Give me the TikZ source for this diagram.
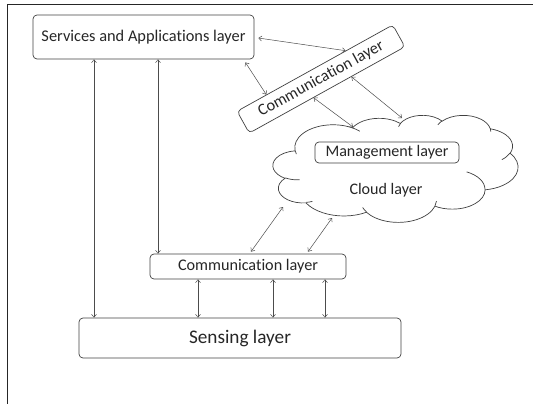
\documentclass[tikz,border=0pt]{standalone}
\usepackage{fontspec}
\setmainfont{Carlito}[Ligatures=NoCommon]
\usetikzlibrary{arrows.meta,calc}
\newlength\fitlen
\newcommand\fitto[2]{\settowidth\fitlen{\fontsize{10pt}{12pt}\selectfont #2}\pgfmathsetmacro\fitsz{10*#1/\fitlen}\fontsize{\fitsz pt}{\fitsz pt}\selectfont #2}
\newcommand\convarc[5]{%
  \pgfmathsetmacro\tmpS{atan2((#2)*sin(#4),(#3)*cos(#4))}%
  \pgfmathsetmacro\tmpE{atan2((#2)*sin((#4)+(#5)),(#3)*cos((#4)+(#5)))}%
  \pgfmathsetmacro\tmpD{\tmpE-\tmpS}%
  \pgfmathsetmacro\tmpD{\tmpD-360*round((\tmpD-(#5))/360)}%
  \expandafter\xdef\csname arcS#1\endcsname{\tmpS}%
  \expandafter\xdef\csname arcD#1\endcsname{\tmpD}%
}
\convarc{a}{67.53}{91.90}{-190.4875}{123.7805}
\convarc{b}{53.33}{72.67}{-144.1024}{89.9452}
\convarc{c}{43.65}{59.45}{-145.8079}{99.7230}
\convarc{d}{48.57}{65.95}{-130.9861}{117.2417}
\convarc{e}{53.33}{72.73}{-78.7089}{109.0269}
\convarc{f}{67.75}{92.20}{-46.2673}{130.2690}
\convarc{g}{57.85}{78.67}{0.6250}{114.0333}
\convarc{h}{67.52}{92.15}{22.4516}{115.1726}
\convarc{i}{77.20}{105.43}{66.2426}{75.7110}
\convarc{j}{43.60}{59.18}{-274.9421}{146.7356}
\convarc{k}{43.45}{59.45}{-246.8285}{152.5189}
\convarc{l}{43.45}{59.45}{86.7420}{26.4295}
\convarc{m}{43.60}{59.18}{73.6105}{11.4475}
\convarc{n}{67.52}{92.15}{137.6242}{14.0811}
\convarc{o}{67.52}{92.15}{6.4533}{15.9984}
\convarc{p}{57.85}{78.67}{-70.2924}{70.9174}
\convarc{q}{53.33}{72.73}{30.3180}{27.7515}
\convarc{r}{48.57}{65.95}{-13.7443}{14.8589}
\convarc{s}{48.57}{65.95}{-149.1815}{18.1954}
\convarc{t}{43.65}{59.45}{-163.4943}{17.6864}
\convarc{u}{67.53}{91.90}{-66.7069}{12.3194}
\convarc{v}{67.53}{91.90}{157.6}{11.9}
\begin{document}
\begin{tikzpicture}[x=1pt,y=-1pt,
  layerbox/.style={draw=black!75, rounded corners=4pt, line width=0.7pt, inner sep=0pt, align=center, text=black!85},
  link/.style={draw=black!70, line width=0.5pt, {Straight Barb[length=3pt,width=5pt]}-{Straight Barb[length=3pt,width=5pt]}},
  frameline/.style={draw=black!85, line width=0.9pt},
  cloudline/.style={draw=black!75, line width=0.7pt},
]
\useasboundingbox (0,0) rectangle (533,404);
\draw[frameline] (7,404) -- (7,4) -- (533,4);
\node[layerbox, minimum width=221pt, minimum height=44pt] (services) at (143.5,37) {\fitto{204}{Services and Applications layer}};
\node[layerbox, rotate=29, minimum width=178pt, minimum height=25pt] (commtop) at (321,79) {\fitto{141}{Communication layer}};
\begin{scope}[shift={(273pt,-115pt)}, x=0.56713pt, y=-0.24769pt]
\draw[cloudline, fill=white] (39.00,143.70)
  arc[x radius=67.53, y radius=91.90, start angle=\arcSa, delta angle=\arcDa]
  arc[x radius=53.33, y radius=72.67, start angle=\arcSb, delta angle=\arcDb]
  arc[x radius=43.65, y radius=59.45, start angle=\arcSc, delta angle=\arcDc]
  arc[x radius=48.57, y radius=65.95, start angle=\arcSd, delta angle=\arcDd]
  arc[x radius=53.33, y radius=72.73, start angle=\arcSe, delta angle=\arcDe]
  arc[x radius=67.75, y radius=92.20, start angle=\arcSf, delta angle=\arcDf]
  arc[x radius=57.85, y radius=78.67, start angle=\arcSg, delta angle=\arcDg]
  arc[x radius=67.52, y radius=92.15, start angle=\arcSh, delta angle=\arcDh]
  arc[x radius=77.20, y radius=105.43, start angle=\arcSi, delta angle=\arcDi]
  arc[x radius=43.60, y radius=59.18, start angle=\arcSj, delta angle=\arcDj]
  arc[x radius=43.45, y radius=59.45, start angle=\arcSk, delta angle=\arcDk]
  -- cycle;
\draw[cloudline]
  (46.93,261.77) arc[x radius=43.45, y radius=59.45, start angle=\arcSl, delta angle=\arcDl]
  (69.28,348.99) arc[x radius=43.60, y radius=59.18, start angle=\arcSm, delta angle=\arcDm]
  (164.78,390.90) arc[x radius=67.52, y radius=92.15, start angle=\arcSn, delta angle=\arcDn]
  (288.27,347.51) arc[x radius=67.52, y radius=92.15, start angle=\arcSo, delta angle=\arcDo]
  (341.29,229.54) arc[x radius=57.85, y radius=78.67, start angle=\arcSp, delta angle=\arcDp]
  (417.98,153.54) arc[x radius=53.33, y radius=72.73, start angle=\arcSq, delta angle=\arcDq]
  (383.24,54.26) arc[x radius=48.57, y radius=65.95, start angle=\arcSr, delta angle=\arcDr]
  (290.78,39.52) arc[x radius=48.57, y radius=65.95, start angle=\arcSs, delta angle=\arcDs]
  (221.41,47.20) arc[x radius=43.65, y radius=59.45, start angle=\arcSt, delta angle=\arcDt]
  (140.05,52.02) arc[x radius=67.53, y radius=91.90, start angle=\arcSu, delta angle=\arcDu]
  (41.27,157.89) arc[x radius=67.53, y radius=91.90, start angle=\arcSv, delta angle=\arcDv];
\end{scope}
\node[minimum width=245pt, minimum height=107pt, inner sep=0pt] (cloud) at (395.5,168.5) {};
\node[layerbox, minimum width=144pt, minimum height=21pt] (mgmt) at (387,152.5) {\fitto{123}{Management layer}};
\node[text=black!85, inner sep=0pt] (cloudtext) at (386,190) {\fitto{73}{Cloud layer}};
\node[layerbox, minimum width=196pt, minimum height=25pt] (commbot) at (248,266.5) {\fitto{140}{Communication layer}};
\node[layerbox, minimum width=322pt, minimum height=40pt] (sensing) at (240,338) {\fitto{102}{Sensing layer}};
\coordinate (xa) at (94,0);
\coordinate (xb) at (158,0);
\coordinate (xc) at (198,0);
\coordinate (xd) at (273,0);
\coordinate (xe) at (325,0);
\draw[link] (services.south -| xa) -- (sensing.north -| xa);
\draw[link] (services.south -| xb) -- (commbot.north -| xb);
\draw[link] (commbot.south -| xc) -- (sensing.north -| xc);
\draw[link] (commbot.south -| xd) -- (sensing.north -| xd);
\draw[link] (commbot.south -| xe) -- (sensing.north -| xe);
\draw[link] ($(services.east)+(4,1)$) -- ($(commtop.north west)!0.697!(commtop.north east)$);
\draw[link] ($(services.south east)+(-9,3)$) -- ($(commtop.north west)!0.19!(commtop.north east)$);
\draw[link] ($(commtop.south west)!0.413!(commtop.south east)$) -- ($(cloud.center)+(-42.5,-41.5)$);
\draw[link] ($(commtop.south west)!0.655!(commtop.south east)$) -- ($(cloud.center)+(6.5,-50.5)$);
\draw[link] ($(commbot.north)+(3,-2)$) -- ($(cloud.center)+(-112.5,38.5)$);
\draw[link] ($(commbot.north)+(60,-2)$) -- ($(cloud.center)+(-63.5,49.5)$);
\end{tikzpicture}
\end{document}
